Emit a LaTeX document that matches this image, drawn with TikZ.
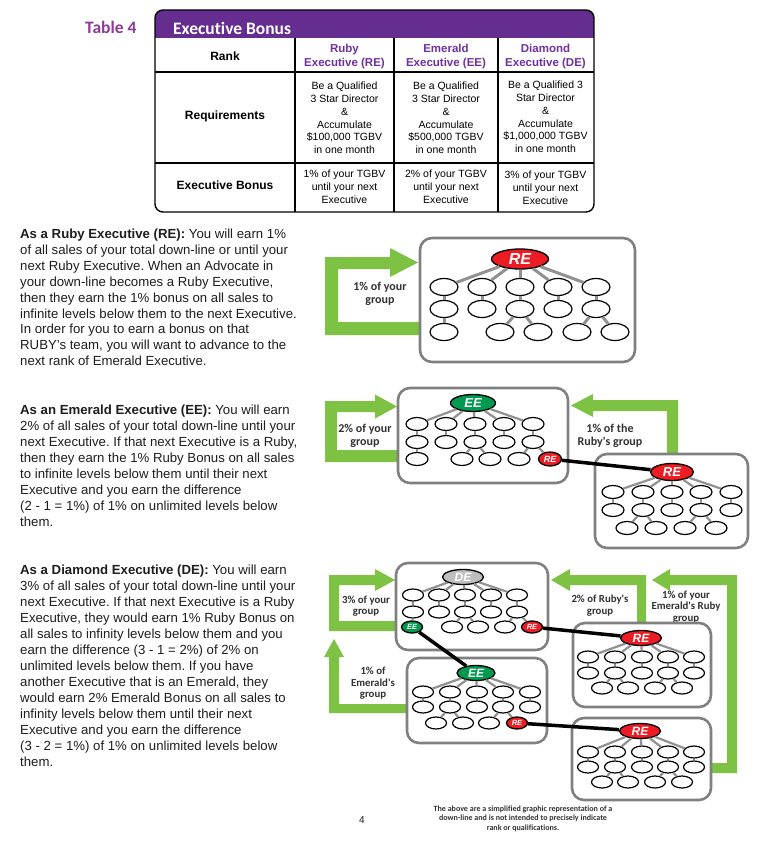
\documentclass[tikz,border=0pt]{standalone}
\usepackage{fontspec}
\setmainfont{Liberation Sans}
\newfontfamily\calfont[Ligatures=NoCommon]{Carlito}
\usetikzlibrary{shapes.geometric}
\frenchspacing
\definecolor{hdrpurple}{RGB}{102,45,145}
\definecolor{tabpurple}{RGB}{142,58,150}
\definecolor{colpurple}{RGB}{112,48,160}
\definecolor{arrgreen}{RGB}{125,194,66}
\definecolor{boxgray}{RGB}{128,128,128}
\definecolor{linegray}{RGB}{145,145,145}
\definecolor{rubyred}{RGB}{237,28,36}
\definecolor{emgreen}{RGB}{0,154,78}
\definecolor{dgray}{RGB}{190,190,190}
\definecolor{lblcol}{RGB}{50,50,50}
\definecolor{bodycol}{RGB}{30,30,30}
\tikzset{
 sm/.style={ellipse,draw=black,fill=white,line width=1.2pt,inner sep=0pt},
 smA/.style={sm,minimum width=28pt,minimum height=17pt},
 smB/.style={sm,minimum width=22pt,minimum height=13pt},
 smC/.style={sm,minimum width=21pt,minimum height=12pt},
 lead/.style={ellipse,draw=black,line width=1.3pt,inner sep=0pt,text=white},
 ruby/.style={lead,fill=rubyred},
 emer/.style={lead,fill=emgreen},
 diam/.style={lead,fill=dgray},
 box/.style={draw=boxgray,line width=2.6pt,rounded corners=12pt,fill=white,inner sep=0pt},
 tl/.style={draw=linegray,line width=2.2pt},
 tlA/.style={draw=linegray,line width=3pt},
 bl/.style={draw=black,line width=3.5pt},
 arr/.style={fill=arrgreen},
 lbl/.style={font=\calfont\bfseries\fontsize{12}{13}\selectfont,text=lblcol,align=center,inner sep=0pt},
 lbls/.style={font=\calfont\bfseries\fontsize{10.8}{11.6}\selectfont,text=lblcol,align=center,inner sep=0pt},
 para/.style={anchor=north west,align=left,inner sep=0pt,text=bodycol,font=\fontsize{13.2}{15.95}\selectfont},
 cell/.style={align=center,inner sep=0pt,font=\fontsize{10.5}{12.8}\selectfont},
 colhd/.style={align=center,inner sep=0pt,text=colpurple,font=\bfseries\fontsize{11.5}{14}\selectfont},
 rowhd/.style={align=center,inner sep=0pt,font=\bfseries\fontsize{12}{14}\selectfont},
 tabline/.style={draw=black,line width=1.4pt},
}
\begin{document}
\begin{tikzpicture}[x=1pt,y=-1pt]
\useasboundingbox (0,0) rectangle (764,850);
\fill[white] (0,0) rectangle (764,850);

% ---------- Table ----------
\node[anchor=west,inner sep=0pt,text=tabpurple,font=\calfont\bfseries\fontsize{17.5}{18}\selectfont] (tabtitle) at (85,27) {Table 4};
\begin{scope}
\clip[rounded corners=8pt] (155,10) rectangle (594,212);
\fill[hdrpurple] (155,10) rectangle (594,38);
\end{scope}
\draw[tabline,rounded corners=8pt] (155,10) rectangle (594,212);
\node[anchor=west,inner sep=0pt,text=white,font=\calfont\bfseries\fontsize{17.5}{18}\selectfont] (tabhead) at (173,28) {Executive Bonus};
\draw[tabline] (155,72) -- (594,72);
\draw[tabline] (155,163) -- (594,163);
\draw[tabline] (295,38) -- (295,212);
\draw[tabline] (394,38) -- (394,212);
\draw[tabline] (498,38) -- (498,212);
\node[rowhd] (hrank) at (225,56) {Rank};
\node[colhd] (hre) at (344.5,56.5) {Ruby\\Executive (RE)};
\node[colhd] (hee) at (446,56.5) {Emerald\\Executive (EE)};
\node[colhd] (hde) at (545.5,56.5) {Diamond\\Executive (DE)};
\node[rowhd] (hreq) at (225,116) {Requirements};
\node[cell] (req1) at (344.5,118) {Be a Qualified\\3 Star Director\\\&\\Accumulate\\\$100,000 TGBV\\in one month};
\node[cell] (req2) at (446,118) {Be a Qualified\\3 Star Director\\\&\\Accumulate\\\$500,000 TGBV\\in one month};
\node[cell] (req3) at (545.5,117) {Be a Qualified 3\\Star Director\\\&\\Accumulate\\\$1,000,000 TGBV\\in one month};
\node[rowhd] (hbon) at (225,185) {Executive Bonus};
\node[cell] (bon1) at (344.5,187) {1\% of your TGBV\\until your next\\Executive};
\node[cell] (bon2) at (446,187) {2\% of your TGBV\\until your next\\Executive};
\node[cell] (bon3) at (545.5,188) {3\% of your TGBV\\until your next\\Executive};

% ---------- Paragraphs ----------
\node[para] (p1) at (20,228.5) {\textbf{As a Ruby Executive (RE):} You will earn 1\%\\
of all sales of your total down-line or until your\\
next Ruby Executive. When an Advocate in\\
your down-line becomes a Ruby Executive,\\
then they earn the 1\% bonus on all sales to\\
infinite levels below them to the next Executive.\\
In order for you to earn a bonus on that\\
RUBY’s team, you will want to advance to the\\
next rank of Emerald Executive.};
\node[para] (p2) at (20,405) {\textbf{As an Emerald Executive (EE):} You will earn\\
2\% of all sales of your total down-line until your\\
next Executive. If that next Executive is a Ruby,\\
then they earn the 1\% Ruby Bonus on all sales\\
to infinite levels below them until their next\\
Executive and you earn the difference\\
(2 - 1 = 1\%) of 1\% on unlimited levels below\\
them.};
\node[para] (p3) at (20,565) {\textbf{As a Diamond Executive (DE):} You will earn\\
3\% of all sales of your total down-line until your\\
next Executive. If that next Executive is a Ruby\\
Executive, they would earn 1\% Ruby Bonus on\\
all sales to infinity levels below them and you\\
earn the difference (3 - 1 = 2\%) of 2\% on\\
unlimited levels below them. If you have\\
another Executive that is an Emerald, they\\
would earn 2\% Emerald Bonus on all sales to\\
infinity levels below them until their next\\
Executive and you earn the difference\\
(3 - 2 = 1\%) of 1\% on unlimited levels below\\
them.};

% ---------- Green arrows ----------
\fill[arr] (422,335) -- (325,335) -- (325,257) -- (390,257) -- (390,248) -- (418,262.5) -- (390,277) -- (390,269) -- (338,269) -- (338,322) -- (422,322) -- cycle;
\fill[arr] (400,462) -- (325,462) -- (325,401) -- (375,401) -- (375,394.5) -- (397,406.5) -- (375,418.5) -- (375,412) -- (337,412) -- (337,450) -- (400,450) -- cycle;
\fill[arr] (678,457) -- (678,400) -- (593,400) -- (593,394) -- (571,405.5) -- (593,417) -- (593,411) -- (667,411) -- (667,457) -- cycle;
\fill[arr] (398,631) -- (329,631) -- (329,575) -- (375,575) -- (375,569) -- (395,580) -- (375,591) -- (375,585) -- (339,585) -- (339,621) -- (398,621) -- cycle;
\fill[arr] (409,713) -- (329,713) -- (329,657) -- (324,657) -- (334,639) -- (344,657) -- (339,657) -- (339,704) -- (409,704) -- cycle;
\fill[arr] (646,625) -- (646,575) -- (570,575) -- (570,569) -- (551,580) -- (570,591) -- (570,585) -- (637,585) -- (637,625) -- cycle;
\fill[arr] (709,773) -- (737,773) -- (737,575) -- (670,575) -- (670,569) -- (652,580) -- (670,591) -- (670,585) -- (727,585) -- (727,763) -- (709,763) -- cycle;

% ---------- Labels ----------
\node[lbl] (l1) at (380,294) {1\% of your\\group};
\node[lbl] (l2) at (365,435.5) {2\% of your\\group};
\node[lbl] (l3) at (610,435.5) {1\% of the\\Ruby's group};
\node[lbls] (l4) at (366,606) {3\% of your\\group};
\node[lbls] (l5) at (373,683.5) {1\% of\\Emerald's\\group};
\node[lbls] (l6) at (600,605.5) {2\% of Ruby's\\group};
\node[lbls] (l7) at (686,607) {1\% of your\\Emerald's Ruby\\group};

% ---------- Tree A (RE) ----------
\node[box,minimum width=215pt,minimum height=124pt] (boxA) at (527.5,300) {};
\node[ruby,minimum width=57pt,minimum height=20pt,font=\bfseries\itshape\fontsize{16}{16}\selectfont] (atop) at (520,259) {RE};
\foreach \x [count=\i] in {444,482,520,558,596} {
  \node[smA] (a1\i) at (\x,287) {};
  \node[smA] (a2\i) at (\x,309) {};
}
\foreach \x [count=\i] in {444,500,538,577,615} \node[smA] (a3\i) at (\x,332) {};
\foreach \i in {1,...,5} {\draw[tlA] (atop) -- (a1\i); \draw[tlA] (a1\i) -- (a2\i);}
\draw[tlA] (a21) -- (a31);
\draw[tlA] (a23) -- (a32); \draw[tlA] (a23) -- (a33);
\draw[tlA] (a25) -- (a34); \draw[tlA] (a25) -- (a35);

% ---------- Tree B (EE) ----------
\node[box,minimum width=170pt,minimum height=95pt] (boxB) at (483,435.5) {};
\node[emer,minimum width=45pt,minimum height=17pt,font=\bfseries\itshape\fontsize{13}{13}\selectfont] (btop) at (473,403) {EE};
\foreach \x [count=\i] in {417,446,475,504,533} {
  \node[smB] (b1\i) at (\x,424) {};
  \node[smB] (b2\i) at (\x,442) {};
}
\foreach \x [count=\i] in {417,462,490,519} \node[smB] (b3\i) at (\x,459) {};
\node[ruby,minimum width=23pt,minimum height=14pt,font=\bfseries\itshape\fontsize{9}{9}\selectfont] (bre) at (550,459) {RE};
\foreach \i in {1,...,5} {\draw[tl] (btop) -- (b1\i); \draw[tl] (b1\i) -- (b2\i);}
\draw[tl] (b21) -- (b31);
\draw[tl] (b23) -- (b32); \draw[tl] (b23) -- (b33);
\draw[tl] (b25) -- (b34); \draw[tl] (b25) -- (bre);

% ---------- Tree C (RE right of EE) ----------
\node[box,minimum width=153pt,minimum height=94pt] (boxC) at (671.5,501) {};
\node[ruby,minimum width=43pt,minimum height=17pt,font=\bfseries\itshape\fontsize{13}{13}\selectfont] (ctop) at (672,472) {RE};
\foreach \x [count=\i] in {613,643,672,701,731} {
  \node[smB] (c1\i) at (\x,492) {};
  \node[smB] (c2\i) at (\x,510) {};
}
\foreach \x [count=\i] in {627,656,685,716} \node[smB] (c3\i) at (\x,528) {};
\foreach \i in {1,...,5} {\draw[tl] (ctop) -- (c1\i); \draw[tl] (c1\i) -- (c2\i);}
\draw[tl] (c22) -- (c31); \draw[tl] (c22) -- (c32);
\draw[tl] (c24) -- (c33); \draw[tl] (c24) -- (c34);
\draw[bl] (bre) -- (ctop);

% ---------- Tree D (DE) ----------
\node[box,minimum width=152pt,minimum height=87pt] (boxD) at (472,606.5) {};
\node[diam,minimum width=41pt,minimum height=15pt,font=\bfseries\itshape\fontsize{12}{12}\selectfont] (dtop) at (463,577) {DE};
\foreach \x [count=\i] in {413,439,465,491,517} {
  \node[smC] (d1\i) at (\x,595) {};
  \node[smC] (d2\i) at (\x,612) {};
}
\node[emer,minimum width=21pt,minimum height=12pt,font=\bfseries\itshape\fontsize{7.5}{7.5}\selectfont] (dee) at (412,627) {EE};
\foreach \x [count=\i] in {452,478,505} \node[smC] (d3\i) at (\x,627) {};
\node[ruby,minimum width=21pt,minimum height=12pt,font=\bfseries\itshape\fontsize{7.5}{7.5}\selectfont] (dre) at (532,627) {RE};
\foreach \i in {1,...,5} {\draw[tl] (dtop) -- (d1\i); \draw[tl] (d1\i) -- (d2\i);}
\draw[tl] (d21) -- (dee);
\draw[tl] (d23) -- (d31); \draw[tl] (d23) -- (d32);
\draw[tl] (d25) -- (d33); \draw[tl] (d25) -- (dre);

% ---------- Tree E (EE under DE) ----------
\node[box,minimum width=140pt,minimum height=85pt] (boxE) at (477,700.5) {};
\node[emer,minimum width=38pt,minimum height=15pt,font=\bfseries\itshape\fontsize{12}{12}\selectfont] (etop) at (476,673) {EE};
\foreach \x [count=\i] in {423,450,477,503,530} {
  \node[smC] (e1\i) at (\x,692) {};
  \node[smC] (e2\i) at (\x,707) {};
}
\foreach \x [count=\i] in {436,463,489} \node[smC] (e3\i) at (\x,723) {};
\node[ruby,minimum width=21pt,minimum height=12pt,font=\bfseries\itshape\fontsize{7.5}{7.5}\selectfont] (ere) at (517,723) {RE};
\foreach \i in {1,...,5} {\draw[tl] (etop) -- (e1\i); \draw[tl] (e1\i) -- (e2\i);}
\draw[tl] (e22) -- (e31); \draw[tl] (e22) -- (e32);
\draw[tl] (e24) -- (e33); \draw[tl] (e24) -- (ere);

% ---------- Tree F (RE upper right) ----------
\node[box,minimum width=138pt,minimum height=84pt] (boxF) at (642,665) {};
\node[ruby,minimum width=41pt,minimum height=15pt,font=\bfseries\itshape\fontsize{12}{12}\selectfont] (ftop) at (641,638) {RE};
\foreach \x [count=\i] in {588,615,642,668,694} {
  \node[smC] (f1\i) at (\x,657) {};
  \node[smC] (f2\i) at (\x,673) {};
}
\foreach \x [count=\i] in {602,628,655,682} \node[smC] (f3\i) at (\x,688) {};
\foreach \i in {1,...,5} {\draw[tl] (ftop) -- (f1\i); \draw[tl] (f1\i) -- (f2\i);}
\draw[tl] (f22) -- (f31); \draw[tl] (f22) -- (f32);
\draw[tl] (f24) -- (f33); \draw[tl] (f24) -- (f34);

% ---------- Tree G (RE lower right) ----------
\node[box,minimum width=139pt,minimum height=82pt] (boxG) at (641.5,759) {};
\node[ruby,minimum width=41pt,minimum height=15pt,font=\bfseries\itshape\fontsize{12}{12}\selectfont] (gtop) at (640,731) {RE};
\foreach \x [count=\i] in {588,615,642,668,694} {
  \node[smC] (g1\i) at (\x,752) {};
  \node[smC] (g2\i) at (\x,767) {};
}
\foreach \x [count=\i] in {602,628,655,682} \node[smC] (g3\i) at (\x,782) {};
\foreach \i in {1,...,5} {\draw[tl] (gtop) -- (g1\i); \draw[tl] (g1\i) -- (g2\i);}
\draw[tl] (g22) -- (g31); \draw[tl] (g22) -- (g32);
\draw[tl] (g24) -- (g33); \draw[tl] (g24) -- (g34);

% ---------- Black connectors in DE ----------
\draw[bl] (dee) -- (etop);
\draw[bl] (dre) -- (ftop);
\draw[bl] (ere) -- (gtop);

% ---------- Footer ----------
\node[inner sep=0pt,font=\fontsize{10}{10}\selectfont,text=bodycol] (pgnum) at (362,820.5) {4};
\node[inner sep=0pt,align=center,text=lblcol,font=\calfont\bfseries\fontsize{8}{9.6}\selectfont] (foot) at (523,818.5) {The above are a simplified graphic representation of a\\down-line and is not intended to precisely indicate\\rank or qualifications.};
\end{tikzpicture}
\end{document}
